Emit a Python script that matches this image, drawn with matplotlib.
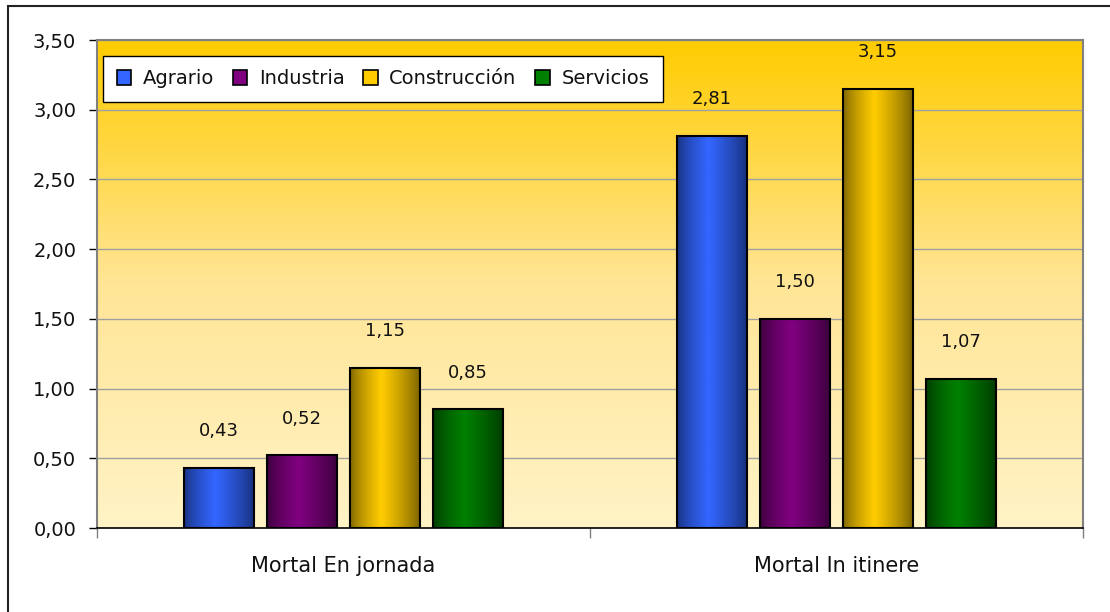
import numpy as np
import matplotlib
matplotlib.use('Agg')
import matplotlib.pyplot as plt
from matplotlib.colors import LinearSegmentedColormap
from matplotlib.patches import Rectangle
from matplotlib.ticker import FuncFormatter, FixedLocator

# Data
categories = ['Mortal En jornada', 'Mortal In itinere']
sectors = ['Agrario', 'Industria', 'Construcción', 'Servicios']
values = {
    'Agrario': [0.43, 2.81],
    'Industria': [0.52, 1.50],
    'Construcción': [1.15, 3.15],
    'Servicios': [0.85, 1.07],
}
bright = {'Agrario': '#3366FF', 'Industria': '#800080',
          'Construcción': '#FFCC00', 'Servicios': '#008000'}
dark = {'Agrario': '#18307A', 'Industria': '#3A003A',
        'Construcción': '#7A6200', 'Servicios': '#003A00'}

plt.rcParams['font.family'] = 'DejaVu Sans'

fig = plt.figure(figsize=(11.10, 6.12), dpi=100)
ax = fig.add_axes([97/1110, 1 - 528/612, 986/1110, 488/612])

ax.set_xlim(-0.5, 1.5)
ax.set_ylim(0, 3.5)

# background gradient of the plot area
bg = LinearSegmentedColormap.from_list('bg', ['#FFF3C6', '#FFE596', '#FFCC00'])
grad = np.linspace(0, 1, 256).reshape(-1, 1)
ax.imshow(grad, cmap=bg, origin='lower', extent=[0, 1, 0, 1],
          transform=ax.transAxes, aspect='auto', zorder=0)

# grid
for y in np.arange(0.5, 3.51, 0.5):
    ax.axhline(y, color='#A0A0A0', lw=1, zorder=1)

step = 83 / 493
width = 70 / 493
x = np.arange(len(categories))
# horizontal shading profile for cylinder look
prof = np.concatenate([np.linspace(0, 1, 45) ** 0.7, np.linspace(1, 0, 55) ** 0.8])

for i, s in enumerate(sectors):
    xs = x + (i - 1.5) * step
    cmap = LinearSegmentedColormap.from_list(s, [dark[s], bright[s]])
    bars = ax.bar(xs, values[s], width=width, facecolor='none',
                  edgecolor='black', linewidth=1.5, zorder=3)
    for b, v in zip(bars, values[s]):
        im = ax.imshow(prof.reshape(1, -1), cmap=cmap, aspect='auto',
                       extent=[b.get_x(), b.get_x() + b.get_width(), 0, v],
                       zorder=2, interpolation='bilinear')
        im.set_clip_path(b)
        ax.annotate(f'{v:.2f}'.replace('.', ','), (b.get_x() + b.get_width() / 2, v),
                    xytext=(0, 20), textcoords='offset points', color='#111111',
                    ha='center', va='bottom', fontsize=13, zorder=4)

ax.set_xlim(-0.5, 1.5)
ax.set_ylim(0, 3.5)

# axes styling
ax.yaxis.set_major_locator(FixedLocator(np.arange(0, 3.51, 0.5)))
ax.yaxis.set_major_formatter(FuncFormatter(lambda v, p: f'{v:.2f}'.replace('.', ',')))
ax.tick_params(axis='y', direction='out', length=6, width=1, color='black',
               labelsize=14, pad=9, labelcolor='#111111')
ax.set_xticks(x)
ax.set_xticklabels(categories, fontsize=15, color='#111111')
ax.tick_params(axis='x', length=0, pad=20)
ax.set_xticks([-0.5, 0.5, 1.5], minor=True)
ax.tick_params(axis='x', which='minor', direction='out', length=7, width=1, color='#808080')

for side in ['top', 'right', 'left']:
    ax.spines[side].set_color('#808080')
    ax.spines[side].set_linewidth(1.5)
ax.spines['bottom'].set_color('black')
ax.spines['bottom'].set_linewidth(1.2)

# legend
handles = [Rectangle((0, 0), 1, 1, facecolor=bright[s], edgecolor='black', lw=1.2)
           for s in sectors]
leg = ax.legend(handles, sectors, loc='upper left', bbox_to_anchor=(0.006, 0.968),
                ncol=4, fontsize=14, frameon=True, fancybox=False,
                edgecolor='black', framealpha=1, handlelength=0.75, handleheight=0.75,
                handletextpad=0.6, columnspacing=0.95, borderpad=0.7, borderaxespad=0)
leg.get_frame().set_linewidth(1.0)
leg.set_zorder(5)
for t in leg.get_texts():
    t.set_color('#111111')

# outer frame of the chart
fig.patches.append(Rectangle((8/1110, -0.05), 1.1, 1 - 6/612 + 0.05,
                             transform=fig.transFigure, fill=False,
                             edgecolor='#222222', lw=1.5))

fig.savefig('out.png', dpi=100)
